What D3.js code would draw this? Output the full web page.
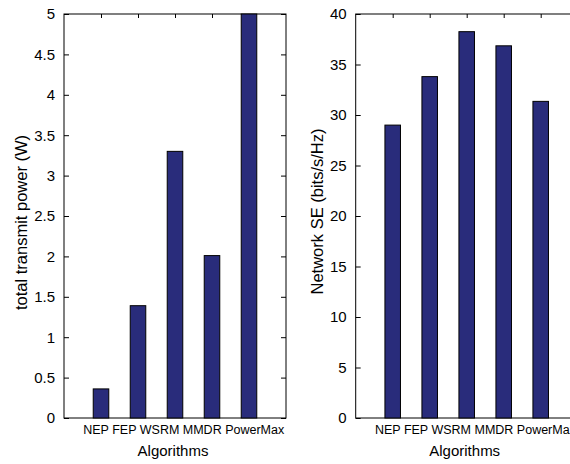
<!DOCTYPE html>
<html>
<head>
<meta charset="utf-8">
<script src="https://cdn.jsdelivr.net/npm/d3@7"></script>
<style>
  html, body { margin: 0; padding: 0; background: #fff; }
  svg { display: block; }
  text { font-family: "Liberation Sans", Arial, Helvetica, sans-serif; fill: #000; }
</style>
</head>
<body>
<svg id="chart" width="570" height="464"></svg>
<script>
const categories = ["NEP", "FEP", "WSRM", "MMDR", "PowerMax"];
const powerValues = [0.36, 1.39, 3.30, 2.01, 5.0];
const seValues = [29.0, 33.8, 38.25, 36.85, 31.35];
const powerTicks = [0, 0.5, 1, 1.5, 2, 2.5, 3, 3.5, 4, 4.5, 5];
const seTicks = [0, 5, 10, 15, 20, 25, 30, 35, 40];

(function () {
const svg = d3.select("#chart");
const barColor = "#292c7b";

const panels = [
  { left: 64, values: powerValues, domain: [0, 5], ticks: powerTicks,
    title: "total transmit power (W)", titleX: 26.5, titleY: 222.5 },
  { left: 355.7, values: seValues, domain: [0, 40], ticks: seTicks,
    title: "Network SE (bits/s/Hz)", titleX: 323, titleY: 211.5 }
];

const plotTop = 14, plotBottom = 418, plotWidth = 222;

panels.forEach(p => {
  const g = svg.append("g");
  const x = d3.scaleLinear().domain([0, categories.length + 1]).range([p.left, p.left + plotWidth]);
  const y = d3.scaleLinear().domain(p.domain).range([plotBottom, plotTop]);
  const idx = categories.map((c, i) => i + 1);
  const bw = x(0.42) - x(0);

  g.append("rect")
    .attr("x", x(0)).attr("y", y(p.domain[1]))
    .attr("width", x(6) - x(0)).attr("height", y(p.domain[0]) - y(p.domain[1]))
    .attr("fill", "none").attr("stroke", "#000").attr("stroke-width", 1);

  const yAxis = d3.axisLeft(y).tickValues(p.ticks).tickSizeInner(-5).tickSizeOuter(0)
    .tickPadding(9).tickFormat(d3.format("~g"));
  const ya = g.append("g").attr("transform", `translate(${x(0)},0)`).call(yAxis);
  ya.select(".domain").remove();
  ya.selectAll("text").style("font-size", "15px").attr("fill", "#000")
    .style("font-family", '"Liberation Sans", Arial, sans-serif');
  ya.selectAll("line").attr("stroke", "#000");

  const yr = g.append("g").attr("transform", `translate(${x(6)},0)`)
    .call(d3.axisRight(y).tickValues(p.ticks).tickSizeInner(-5).tickSizeOuter(0).tickFormat(""));
  yr.select(".domain").remove();
  yr.selectAll("line").attr("stroke", "#000");

  const xt = g.append("g").attr("transform", `translate(0,${plotTop})`)
    .call(d3.axisTop(x).tickValues(idx).tickSizeInner(-4).tickSizeOuter(0).tickFormat(""));
  xt.select(".domain").remove();
  xt.selectAll("line").attr("stroke", "#000");

  const xb = g.append("g").attr("transform", `translate(0,${plotBottom})`)
    .call(d3.axisBottom(x).tickValues(idx).tickSizeInner(-4).tickSizeOuter(0).tickFormat(""));
  xb.select(".domain").remove();
  xb.selectAll("line").attr("stroke", "#000");

  g.selectAll("rect.bar").data(p.values).join("rect")
    .attr("class", "bar")
    .attr("x", (d, i) => x(i + 1) - bw / 2)
    .attr("y", d => y(d))
    .attr("width", bw)
    .attr("height", d => y(0) - y(d))
    .attr("fill", barColor)
    .attr("stroke", "#000")
    .attr("stroke-width", 1);

  g.append("text")
    .attr("x", x(0.52)).attr("y", 434)
    .attr("text-anchor", "start")
    .style("font-size", "12.5px")
    .text(categories.join(" "));

  g.append("text")
    .attr("x", (x(0) + x(6)) / 2 - 2)
    .attr("y", 456)
    .attr("text-anchor", "middle")
    .style("font-size", "15px")
    .text("Algorithms");

  g.append("text")
    .attr("transform", `translate(${p.titleX},${p.titleY}) rotate(-90)`)
    .attr("text-anchor", "middle")
    .style("font-size", "16.5px")
    .text(p.title);
});
})();
</script>
</body>
</html>
